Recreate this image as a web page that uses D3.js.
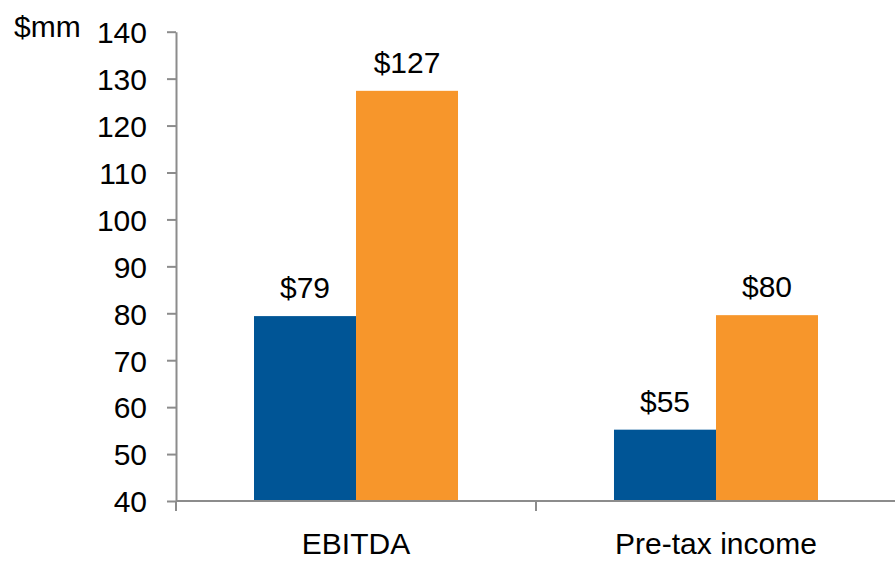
<!DOCTYPE html>
<html>
<head>
<meta charset="utf-8">
<script src="https://d3js.org/d3.v7.min.js"></script>
<style>
    body { margin: 0; background: #fff; }
    text { font-family: "Liberation Sans", Arial, sans-serif; fill: #000; }
</style>
</head>
<body>
<div id="chart"></div>
<script>
    // data
    let categories = ["EBITDA", "Pre-tax income"];
    let series = ["prior", "current"];
    let priorValues = [79.4, 55.2];
    let currentValues = [127.4, 79.6];
    let yTicks = [40, 50, 60, 70, 80, 90, 100, 110, 120, 130, 140];
    let colors = ["#005596", "#f7962b"];

    let width = 895, height = 561;
    let plot = { left: 176, right: 896, top: 31.7, bottom: 501 };
    let axisColor = "#8c8c8c";

    let svg = d3.select("#chart").append("svg")
        .attr("width", width).attr("height", height);

    let x = d3.scaleBand()
        .domain(categories)
        .range([plot.left, plot.right])
        .paddingInner(0.4333)
        .paddingOuter(0.2167);

    let xs = d3.scaleBand()
        .domain(series)
        .range([0, x.bandwidth()]);

    let y = d3.scaleLinear()
        .domain([40, 140])
        .range([plot.bottom, plot.top]);

    let rows = categories.map((c, i) => ({
        cat: c,
        vals: [priorValues[i], currentValues[i]]
    }));

    // bars
    let groups = svg.selectAll("g.grp").data(rows).join("g")
        .attr("class", "grp")
        .attr("transform", d => "translate(" + x(d.cat) + ",0)");

    groups.selectAll("rect").data(d => d.vals.map((v, j) => ({ s: series[j], v: v, j: j })))
        .join("rect")
        .attr("x", d => xs(d.s))
        .attr("y", d => y(d.v))
        .attr("width", xs.bandwidth())
        .attr("height", d => y(40) - y(d.v))
        .attr("fill", d => colors[d.j]);

    groups.selectAll("text.lbl").data(d => d.vals.map((v, j) => ({ s: series[j], v: v })))
        .join("text")
        .attr("class", "lbl")
        .attr("x", d => xs(d.s) + xs.bandwidth() / 2)
        .attr("y", d => y(d.v) - 18)
        .attr("text-anchor", "middle")
        .style("font-size", "30px")
        .text(d => "$" + Math.round(d.v));

    // y axis
    let yAxis = svg.append("g")
        .attr("transform", "translate(" + plot.left + ",0)")
        .call(d3.axisLeft(y).tickValues(yTicks).tickSize(9).tickPadding(20).tickSizeOuter(0));
    yAxis.select(".domain").attr("stroke", axisColor).attr("stroke-width", 2);
    yAxis.selectAll(".tick line").attr("stroke", axisColor).attr("stroke-width", 2);
    yAxis.selectAll(".tick text")
        .attr("dy", "0.36em")
        .style("font-size", "30px")
        .style("font-family", "'Liberation Sans', Arial, sans-serif")
        .attr("fill", "#000");

    // x axis baseline and boundary ticks
    svg.append("line")
        .attr("x1", plot.left).attr("x2", width)
        .attr("y1", y(40)).attr("y2", y(40))
        .attr("stroke", axisColor).attr("stroke-width", 2);

    let bounds = categories.map(c => x(c) - x.step() * x.paddingOuter());
    svg.selectAll("line.xt").data(bounds).join("line")
        .attr("class", "xt")
        .attr("x1", d => d).attr("x2", d => d)
        .attr("y1", y(40)).attr("y2", y(40) + 10)
        .attr("stroke", axisColor).attr("stroke-width", 2);

    svg.selectAll("text.cat").data(categories).join("text")
        .attr("class", "cat")
        .attr("x", d => x(d) + x.bandwidth() / 2)
        .attr("y", 554)
        .attr("text-anchor", "middle")
        .style("font-size", "30px")
        .text(d => d);

    // unit label
    svg.append("text")
        .attr("x", 14).attr("y", 37)
        .style("font-size", "30px")
        .text("$mm");
</script>
</body>
</html>
